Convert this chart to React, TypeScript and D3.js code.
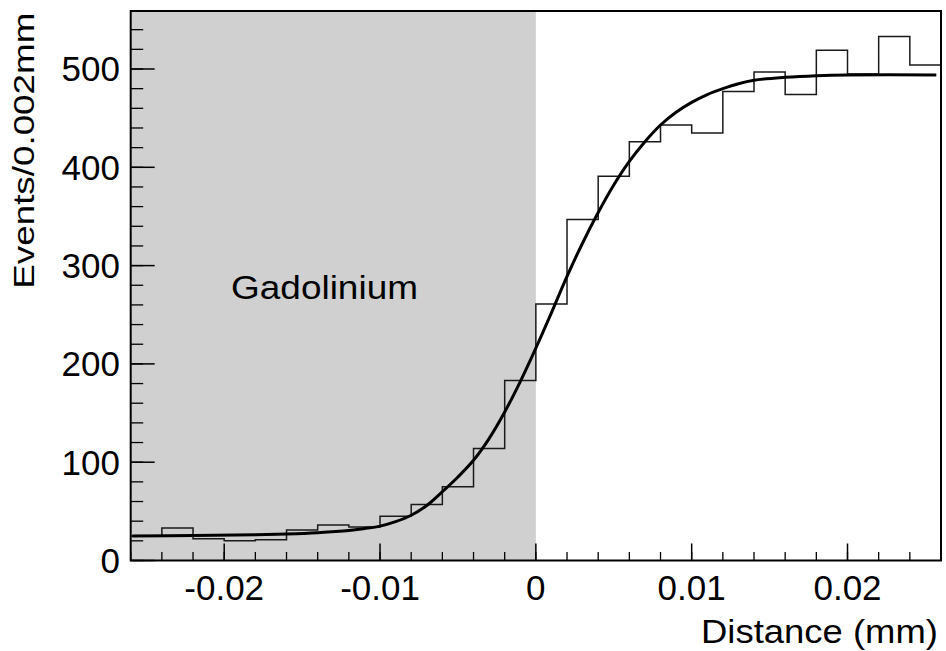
import React from "react";
import * as d3 from "d3";

// Histogram: bin edges start at -0.026, width 0.002 mm
const binStart = -0.026;
const binWidth = 0.002;
const counts = [25, 33, 22, 20, 21, 31, 36, 34, 45, 57, 75, 114, 183, 261, 347, 391, 426, 443, 435, 477, 497, 474, 519, 495, 533, 504];

// Fit curve
const fitX = [-0.0259, -0.022, -0.018, -0.016, -0.014, -0.012, -0.011, -0.01, -0.009, -0.008, -0.007, -0.006, -0.005, -0.004, -0.003, -0.002, -0.001, 0, 0.001, 0.002, 0.003, 0.004, 0.005, 0.006, 0.007, 0.008, 0.009, 0.01, 0.011, 0.012, 0.013, 0.014, 0.016, 0.018, 0.02, 0.0257];
const fitY = [25, 25.4, 26.2, 27, 28.3, 30.5, 32.5, 35, 39.5, 46, 56, 70, 85, 102, 124, 151, 182, 216, 252, 289, 323, 354, 382, 406, 426, 443, 456, 466, 474, 480, 485, 488.5, 491.5, 493.2, 494, 494];

const xTicks = [-0.02, -0.01, 0, 0.01, 0.02];
const xTickLabels = ["-0.02", "-0.01", "0", "0.01", "0.02"];
const yTicks = [0, 100, 200, 300, 400, 500];
const yTickLabels = ["0", "100", "200", "300", "400", "500"];

const xDomain = [-0.026, 0.026];
const yDomain = [0, 559];
const shadeRange = [-0.026, 0];

const FONT = "'Liberation Sans', Arial, Helvetica, sans-serif";

export default function App() {
  const W = 946, H = 651;
  const left = 130.7, right = 941, top = 11, bottom = 560.5;
  const x = d3.scaleLinear().domain(xDomain).range([left, right]);
  const y = d3.scaleLinear().domain(yDomain).range([bottom, top]);

  const histPts: [number, number][] = counts.map((c, i) => [binStart + i * binWidth, c]);
  histPts.push([binStart + counts.length * binWidth, counts[counts.length - 1]]);
  const histPath = d3.line<[number, number]>()
    .x(d => x(d[0])).y(d => y(d[1]))
    .curve(d3.curveStepAfter)(histPts) || "";

  const fitPts: [number, number][] = fitX.map((v, i) => [v, fitY[i]]);
  const fitPath = d3.line<[number, number]>()
    .x(d => x(d[0])).y(d => y(d[1]))
    .curve(d3.curveCatmullRom.alpha(0.5))(fitPts) || "";

  const xMinor = d3.range(-26, 27, 2).map(v => v / 1000);
  const yMinor = d3.range(0, 560, 20);

  return (
    <svg width={W} height={H} style={{ position: "absolute", left: 0, top: 0, background: "#fff" }}>
      <rect x={x(shadeRange[0])} y={top} width={x(shadeRange[1]) - x(shadeRange[0])} height={bottom - top} fill="#d0d0d0" />
      <path d={histPath} fill="none" stroke="#1a1a1a" strokeWidth={1.5} />
      <path d={fitPath} fill="none" stroke="#000" strokeWidth={3} />
      {/* frame */}
      <rect x={left} y={top} width={right - left} height={bottom - top} fill="none" stroke="#000" strokeWidth={2} />
      {/* x ticks */}
      {xMinor.map((v, i) => (
        <line key={"xm" + i} x1={x(v)} x2={x(v)} y1={bottom} y2={bottom - 8.5} stroke="#000" strokeWidth={1.3} />
      ))}
      {xTicks.map((v, i) => (
        <line key={"xM" + i} x1={x(v)} x2={x(v)} y1={bottom} y2={bottom - 17} stroke="#000" strokeWidth={1.5} />
      ))}
      {xTicks.map((v, i) => (
        <text key={"xl" + i} x={x(v)} y={600} textAnchor="middle" fontFamily={FONT} fontSize={35} fill="#000">{xTickLabels[i]}</text>
      ))}
      {/* y ticks */}
      {yMinor.map((v, i) => (
        <line key={"ym" + i} x1={left} x2={left + 12.5} y1={y(v)} y2={y(v)} stroke="#000" strokeWidth={1.3} />
      ))}
      {yTicks.map((v, i) => (
        <line key={"yM" + i} x1={left} x2={left + 24} y1={y(v)} y2={y(v)} stroke="#000" strokeWidth={1.5} />
      ))}
      {yTicks.map((v, i) => (
        <text key={"yl" + i} x={120} y={y(v) + 12.5} textAnchor="end" fontFamily={FONT} fontSize={35} fill="#000">{yTickLabels[i]}</text>
      ))}
      <text x={938} y={643} textAnchor="end" fontFamily={FONT} fontSize={34} fill="#000" textLength={237} lengthAdjust="spacingAndGlyphs">Distance (mm)</text>
      <text transform="translate(34,12.7) rotate(-90)" textAnchor="end" fontFamily={FONT} fontSize={30} fill="#000" textLength={276} lengthAdjust="spacingAndGlyphs">Events/0.002mm</text>
      <text x={231} y={299.3} fontFamily={FONT} fontSize={34} fill="#000" textLength={187} lengthAdjust="spacingAndGlyphs">Gadolinium</text>
    </svg>
  );
}
